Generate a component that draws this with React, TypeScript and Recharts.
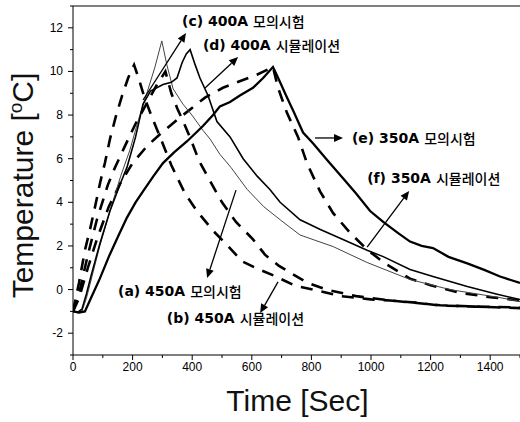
import React from "react";
import { LineChart, Line, XAxis, YAxis, ReferenceLine, ReferenceDot, Label } from "recharts";

// [time (s), temperature rise (°C)]
const exp450 = [
  [0, -1], [15, -1.05], [30, -1.0], [45, -0.4], [60, 0.4], [90, 2.0], [124, 3.6], [160, 5.2],
  [191, 6.4], [220, 7.8], [250, 9.1], [275, 10.2], [298, 11.4], [315, 10.3], [336, 9.2], [369, 8.5],
  [399, 8.0], [436, 7.3], [460, 6.9], [493, 6.2], [530, 5.6], [584, 4.6], [640, 3.8], [695, 3.2],
  [762, 2.5], [873, 1.97], [987, 1.24], [1131, 0.46], [1265, 0.0], [1433, -0.37], [1500, -0.55],
];
const sim450 = [
  [0, -1], [20, 0.3], [40, 1.8], [57, 2.75], [74, 3.8], [91, 4.9], [107, 5.8], [124, 6.9],
  [145, 8.0], [165, 8.9], [185, 9.7], [205, 10.3], [220, 9.7], [240, 8.8], [265, 7.9], [295, 6.9],
  [330, 5.7], [376, 4.4], [416, 3.6], [470, 2.7], [520, 2.0], [567, 1.3], [620, 0.95], [674, 0.64],
  [745, 0.18], [805, 0.0], [900, -0.3], [1000, -0.45], [1064, -0.5], [1150, -0.6], [1232, -0.73],
  [1350, -0.78], [1500, -0.85],
];
const exp400 = [
  [0, -1], [15, -1.05], [30, -0.9], [45, -0.2], [60, 0.6], [90, 2.1], [124, 3.6], [160, 4.9],
  [181, 5.6], [210, 7.0], [235, 8.5], [260, 9.1], [302, 9.4], [330, 9.5], [349, 9.7], [366, 10.4],
  [380, 10.8], [393, 11.0], [410, 10.3], [426, 9.7], [453, 8.9], [483, 7.7], [527, 7.0], [571, 6.0],
  [618, 5.2], [660, 4.6], [695, 4.0], [762, 3.2], [830, 2.75], [906, 2.3], [987, 1.8], [1041, 1.51],
  [1131, 0.92], [1208, 0.6], [1323, 0.14], [1420, -0.2], [1500, -0.46],
];
const sim400 = [
  [0, -1], [20, -0.2], [50, 1.6], [80, 3.2], [117, 4.8], [141, 5.6], [175, 6.6], [210, 7.6],
  [250, 8.6], [282, 9.4], [310, 10.0], [330, 9.0], [350, 8.3], [370, 7.7], [395, 6.9], [423, 5.9],
  [463, 4.9], [500, 4.0], [547, 3.1], [604, 2.3], [644, 1.6], [690, 1.1], [728, 0.78], [785, 0.32],
  [850, 0.0], [950, -0.3], [1064, -0.5], [1232, -0.72], [1350, -0.78], [1500, -0.82],
];
const exp350 = [
  [0, -1], [20, -1.05], [40, -1.0], [60, -0.4], [90, 0.5], [120, 1.5], [150, 2.4], [181, 3.3],
  [210, 4.0], [240, 4.6], [270, 5.2], [302, 5.8], [340, 6.3], [383, 6.8], [436, 7.5], [470, 8.0],
  [493, 8.4], [527, 8.6], [560, 8.9], [604, 9.25], [638, 9.7], [671, 10.2], [685, 9.8], [695, 9.5],
  [715, 8.9], [739, 8.2], [772, 7.2], [806, 6.7], [852, 5.95], [906, 5.1], [950, 4.4], [997, 3.6],
  [1041, 3.1], [1090, 2.6], [1131, 2.2], [1170, 2.0], [1208, 1.9], [1260, 1.5], [1323, 1.2],
  [1380, 0.9], [1433, 0.6], [1500, 0.3],
];
const sim350 = [
  [0, -1], [20, -0.4], [50, 1.0], [80, 2.3], [120, 3.8], [160, 4.9], [200, 5.8], [250, 6.6],
  [290, 7.1], [360, 7.9], [443, 8.8], [503, 9.25], [550, 9.5], [617, 9.85], [671, 10.2], [688, 9.25],
  [718, 8.1], [755, 7.0], [785, 5.8], [829, 4.5], [873, 3.5], [930, 2.6], [987, 1.83], [1047, 1.2],
  [1131, 0.5], [1200, 0.2], [1300, -0.15], [1400, -0.35], [1500, -0.5],
];

const xTicks = [0, 100, 200, 300, 400, 500, 600, 700, 800, 900, 1000, 1100, 1200, 1300, 1400, 1500];
const yTicks = [-3, -2, -1, 0, 1, 2, 3, 4, 5, 6, 7, 8, 9, 10, 11, 12, 13];

// annotation: label anchor, arrow tail, arrow head (data coords)
const notes = [
  { tag: "(a) 450A", ko: "모의시험", at: [151, -0.07], from: [547, 4.56], to: [450, 0.53] },
  { tag: "(b) 450A", ko: "시뮬레이션", at: [315, -1.3], from: [688, 0.35], to: [628, -1.08] },
  { tag: "(c) 400A", ko: "모의시험", at: [366, 12.31], from: [235, 8.69], to: [379, 11.76] },
  { tag: "(d) 400A", ko: "시뮬레이션", at: [436, 11.21], from: [443, 9.24], to: [554, 10.66] },
  { tag: "(e) 350A", ko: "모의시험", at: [936, 6.95], from: [812, 6.95], to: [906, 6.95] },
  { tag: "(f) 350A", ko: "시뮬레이션", at: [987, 5.11], from: [987, 1.95], to: [1128, 4.52] },
];

const pts = (arr: number[][]) => arr.map(([x, y]) => ({ x, y }));

const XTick = (props: any) => {
  const { x, y, payload } = props;
  const v = payload.value;
  const major = v % 200 === 0;
  return (
    <g>
      <line x1={x} y1={y} x2={x} y2={y + (major ? 5 : 3)} stroke="#000" />
      {major && v <= 1400 && (
        <text x={x} y={y + 12} textAnchor="middle" dominantBaseline="central" fontSize={12} fill="#000">
          {v}
        </text>
      )}
    </g>
  );
};

const YTick = (props: any) => {
  const { x, y, payload } = props;
  const v = payload.value;
  const major = v % 2 === 0;
  return (
    <g>
      <line x1={x} y1={y} x2={x - (major ? 5 : 3)} y2={y} stroke="#000" />
      {major && v >= -2 && v <= 12 && (
        <text x={x - 10} y={y} textAnchor="end" dominantBaseline="central" fontSize={12} fill="#000">
          {v}
        </text>
      )}
    </g>
  );
};

const Arrow = (props: any) => {
  const { x1, y1, x2, y2 } = props;
  const a = Math.atan2(y2 - y1, x2 - x1);
  const len = 9;
  const w = 4;
  const bx = x2 - len * Math.cos(a);
  const by = y2 - len * Math.sin(a);
  const px = -Math.sin(a) * w;
  const py = Math.cos(a) * w;
  return (
    <g>
      <line x1={x1} y1={y1} x2={bx} y2={by} stroke="#000" strokeWidth={1.3} />
      <polygon points={`${x2},${y2} ${bx + px},${by + py} ${bx - px},${by - py}`} fill="#000" />
    </g>
  );
};

const noteText = (tag: string, ko: string) => (props: any) => (
  <text x={props.cx} y={props.cy} dominantBaseline="central" fontSize={14} fill="#000">
    <tspan fontFamily="'DejaVu Sans', sans-serif" fontWeight="bold">{tag}</tspan>
    <tspan fontFamily="'Noto Sans CJK KR', sans-serif" fontWeight={500} dx={5}>{ko}</tspan>
  </text>
);

const YTitle = (props: any) => {
  const { viewBox } = props;
  const cy = viewBox.y + viewBox.height / 2 + 5;
  return (
    <text transform={`translate(33, ${cy}) rotate(-90)`} textAnchor="middle" fontSize={30} fill="#111">
      Temperature [<tspan fontSize={19} dy={-11}>o</tspan>
      <tspan dy={11}>C]</tspan>
    </text>
  );
};

const XTitle = (props: any) => {
  const { viewBox } = props;
  return (
    <text x={viewBox.x + viewBox.width / 2 + 1} y={411} textAnchor="middle" fontSize={30} fill="#111">
      Time [Sec]
    </text>
  );
};

export default function App() {
  return (
    <div style={{ position: "absolute", left: 0, top: 0, width: 520, height: 422, background: "#fff" }}>
      <LineChart
        width={520}
        height={422}
        margin={{ top: 6, right: 0, bottom: 0, left: 0 }}
        style={{ fontFamily: "'Liberation Sans', Arial, sans-serif" }}
      >
        <XAxis
          dataKey="x"
          type="number"
          domain={[0, 1500]}
          ticks={xTicks}
          interval={0}
          height={67}
          tickSize={0}
          tickMargin={0}
          tickLine={false}
          tick={<XTick />}
          axisLine={{ stroke: "#000" }}
          allowDataOverflow
        >
          <Label content={<XTitle />} />
        </XAxis>
        <YAxis
          type="number"
          domain={[-3, 13]}
          ticks={yTicks}
          interval={0}
          width={73}
          tickSize={0}
          tickMargin={0}
          tickLine={false}
          tick={<YTick />}
          axisLine={{ stroke: "#000" }}
          allowDataOverflow
        >
          <Label content={<YTitle />} />
        </YAxis>
        <ReferenceLine y={13} stroke="#000" strokeWidth={1} />

        <Line data={pts(sim450)} dataKey="y" type="linear" dot={false} stroke="#000" strokeWidth={2.6} strokeDasharray="12 9" isAnimationActive={false} />
        <Line data={pts(sim400)} dataKey="y" type="linear" dot={false} stroke="#000" strokeWidth={2.6} strokeDasharray="12 9" isAnimationActive={false} />
        <Line data={pts(sim350)} dataKey="y" type="linear" dot={false} stroke="#000" strokeWidth={2.6} strokeDasharray="12 9" isAnimationActive={false} />
        <Line data={pts(exp450)} dataKey="y" type="linear" dot={false} stroke="#444" strokeWidth={1} isAnimationActive={false} />
        <Line data={pts(exp400)} dataKey="y" type="linear" dot={false} stroke="#000" strokeWidth={1.6} isAnimationActive={false} />
        <Line data={pts(exp350)} dataKey="y" type="linear" dot={false} stroke="#000" strokeWidth={2.3} isAnimationActive={false} />

        {notes.map((n) => (
          <ReferenceLine
            key={"arrow" + n.tag}
            segment={[{ x: n.from[0], y: n.from[1] }, { x: n.to[0], y: n.to[1] }]}
            shape={<Arrow />}
          />
        ))}
        {notes.map((n) => (
          <ReferenceDot key={"note" + n.tag} x={n.at[0]} y={n.at[1]} r={0} shape={noteText(n.tag, n.ko)} />
        ))}
      </LineChart>
    </div>
  );
}
